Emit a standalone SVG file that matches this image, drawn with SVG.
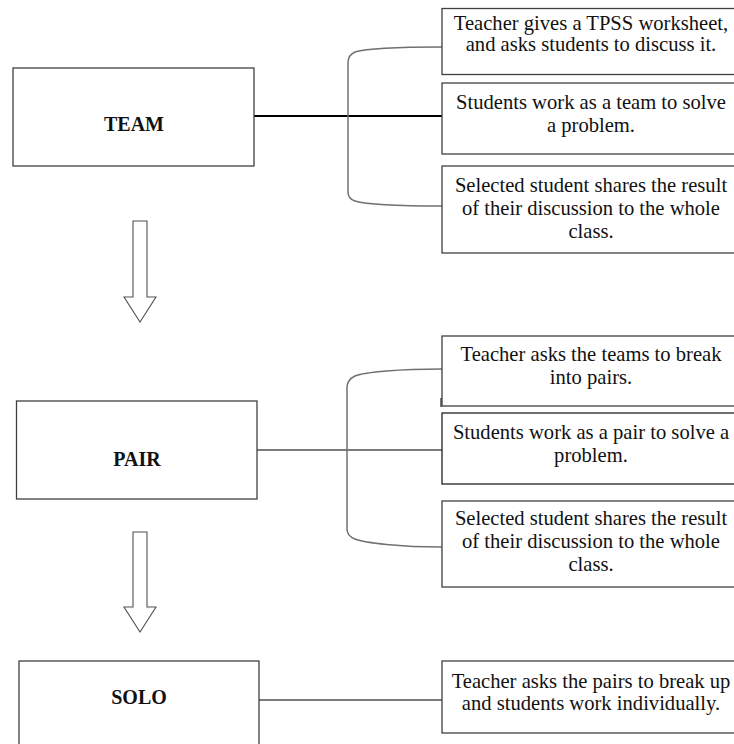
<svg xmlns="http://www.w3.org/2000/svg" width="734" height="744" viewBox="0 0 734 744">
<style>
.box{fill:#fff;stroke:#404040;stroke-width:1.3}
.t{font-family:"Liberation Serif","Times New Roman",serif;font-size:20.6px;fill:#111;text-anchor:middle}
.b{font-family:"Liberation Serif","Times New Roman",serif;font-size:20px;font-weight:bold;fill:#111;text-anchor:middle}
.ln{fill:none;stroke:#505050;stroke-width:1.3}
.br{fill:none;stroke:#707070;stroke-width:1.5}
.arr{fill:#fff;stroke:#505050;stroke-width:1.1}
</style>
<rect width="734" height="744" fill="#fff"/>
<g id="connectors">
<line x1="254" y1="116" x2="442" y2="116" stroke="#000" stroke-width="2"/>
<path class="br" d="M442,47 C400,47 365,49 355,52 Q348,55 348,63 L348,192 Q348,199 355,201 C365,204 400,206 442,206"/>
<line class="ln" x1="257" y1="450" x2="442" y2="450"/>
<path class="br" d="M442,369 C400,369 365,372 355,376 Q347,380 347,387 L347,529 Q347,536 355,539 C365,543 400,547 442,547"/>
<line class="ln" x1="259" y1="700" x2="442" y2="700"/>
<polygon class="arr" points="133,221 147,221 147,297 156,297 140,322 124,297 133,297"/>
<polygon class="arr" points="133,532 147,532 147,607 156,607 140,632 124,607 133,607"/>
</g>
<g id="team">
<rect class="box" x="13" y="68" width="241" height="98"/>
<text class="b" x="134" y="131">TEAM</text>
</g>
<g id="team-1">
<rect class="box" x="442" y="8.5" width="300" height="66"/>
<text class="t" x="591" y="29.5">Teacher gives a TPSS worksheet,</text>
<text class="t" x="591" y="50.5">and asks students to discuss it.</text>
</g>
<g id="team-2">
<rect class="box" x="442" y="83" width="300" height="71"/>
<text class="t" x="591" y="108.5">Students work as a team to solve</text>
<text class="t" x="591" y="132">a problem.</text>
</g>
<g id="team-3">
<rect class="box" x="442" y="166" width="300" height="87"/>
<text class="t" x="591" y="192">Selected student shares the result</text>
<text class="t" x="591" y="215">of their discussion to the whole</text>
<text class="t" x="591" y="238">class.</text>
</g>
<g id="pair">
<rect class="box" x="16.5" y="401" width="240.5" height="98"/>
<text class="b" x="137" y="466">PAIR</text>
</g>
<g id="pair-1">
<rect class="box" x="442" y="336" width="300" height="70"/>
<line x1="441" y1="398" x2="441" y2="407" stroke="#303030" stroke-width="1.3"/>
<text class="t" x="591" y="361">Teacher asks the teams to break</text>
<text class="t" x="591" y="384">into pairs.</text>
</g>
<g id="pair-2">
<rect class="box" x="442" y="413" width="300" height="71" style="stroke:#222"/>
<text class="t" x="591" y="439">Students work as a pair to solve a</text>
<text class="t" x="591" y="462">problem.</text>
</g>
<g id="pair-3">
<rect class="box" x="442" y="501" width="300" height="86"/>
<text class="t" x="591" y="525">Selected student shares the result</text>
<text class="t" x="591" y="548">of their discussion to the whole</text>
<text class="t" x="591" y="571">class.</text>
</g>
<g id="solo">
<rect class="box" x="19" y="661" width="240" height="100"/>
<text class="b" x="139" y="704">SOLO</text>
</g>
<g id="solo-1">
<rect class="box" x="442" y="661" width="300" height="72"/>
<text class="t" x="591" y="688">Teacher asks the pairs to break up</text>
<text class="t" x="591" y="710">and students work individually.</text>
</g>
</svg>
